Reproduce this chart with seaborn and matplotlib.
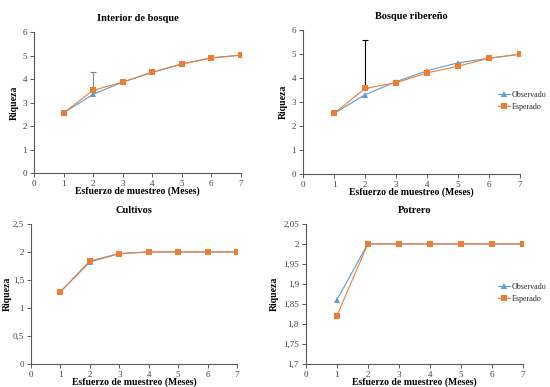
import numpy as np
import pandas as pd
import matplotlib
matplotlib.use("Agg")
import matplotlib.pyplot as plt
from matplotlib.ticker import FuncFormatter, MultipleLocator
import seaborn as sns

sns.set_theme(style="white")
plt.rcParams['font.family'] = ['Liberation Serif', 'DejaVu Serif']

meses = [1, 2, 3, 4, 5, 6, 7]

interior_obs = [2.56, 3.35, 3.87, 4.29, 4.64, 4.90, 5.02]
interior_esp = [2.56, 3.52, 3.87, 4.29, 4.64, 4.90, 5.02]
interior_err_sup = 4.32

ribereno_obs = [2.53, 3.31, 3.85, 4.31, 4.64, 4.83, 5.00]
ribereno_esp = [2.53, 3.57, 3.81, 4.22, 4.50, 4.83, 5.00]
ribereno_err_sup = 5.58

cultivos_obs = [1.29, 1.82, 1.97, 2.00, 2.00, 2.00, 2.00]
cultivos_esp = [1.29, 1.84, 1.97, 2.00, 2.00, 2.00, 2.00]

potrero_obs = [1.86, 2.00, 2.00, 2.00, 2.00, 2.00, 2.00]
potrero_esp = [1.82, 2.00, 2.00, 2.00, 2.00, 2.00, 2.00]

titulos = ["Interior de bosque", "Bosque ribereño", "Cultivos", "Potrero"]
series_lbl = ["Observado", "Esperado"]

BLUE = "#5B9BD5"
ORANGE = "#ED7D31"

fig = plt.figure(figsize=(5.5, 3.87), dpi=100)
rects = [
    [0.0618, 0.553, 0.376, 0.364],
    [0.551, 0.550, 0.3945, 0.372],
    [0.0564, 0.0594, 0.3745, 0.362],
    [0.556, 0.0594, 0.3945, 0.362],
]
datos = [
    (interior_obs, interior_esp, interior_err_sup, (0, 6), 1, "#808080"),
    (ribereno_obs, ribereno_esp, ribereno_err_sup, (0, 6), 1, "#000000"),
    (cultivos_obs, cultivos_esp, None, (0, 2.5), 0.5, None),
    (potrero_obs, potrero_esp, None, (1.7, 2.05), 0.05, None),
]

def fmt(v, pos):
    s = ("%.2f" % v).rstrip("0").rstrip(".")
    return s.replace(".", ",")

for i, (rect, (obs, esp, err, ylim, step, ecol)) in enumerate(zip(rects, datos)):
    ax = fig.add_axes(rect)
    df = pd.DataFrame({"Meses": meses * 2,
                       "Riqueza": obs + esp,
                       "Serie": [series_lbl[0]] * 7 + [series_lbl[1]] * 7})
    sns.lineplot(data=df[df.Serie == "Observado"], x="Meses", y="Riqueza", ax=ax,
                 color=BLUE, marker="^", markersize=3.8, markeredgewidth=0,
                 linewidth=0.8, label="Observado", legend=False)
    sns.lineplot(data=df[df.Serie == "Esperado"], x="Meses", y="Riqueza", ax=ax,
                 color=ORANGE, marker="s", markersize=3.8, markeredgewidth=0,
                 linewidth=0.8, label="Esperado", legend=False)
    if err is not None:
        ax.errorbar([2], [esp[1]], yerr=[[0], [err - esp[1]]], fmt="none",
                    ecolor=ecol, elinewidth=0.8, capsize=2.2, capthick=0.8, zorder=1)
    ax.set_xlim(0, 7)
    ax.set_ylim(*ylim)
    ax.xaxis.set_major_locator(MultipleLocator(1))
    ax.yaxis.set_major_locator(MultipleLocator(step))
    ax.yaxis.set_major_formatter(FuncFormatter(fmt))
    for sp in ["top", "right"]:
        ax.spines[sp].set_visible(False)
    for sp in ["left", "bottom"]:
        ax.spines[sp].set_color("#595959")
        ax.spines[sp].set_linewidth(0.8)
    ax.tick_params(axis="both", which="major", direction="out", length=3, width=0.7,
                   colors="#595959", labelsize=6.5, labelcolor="#404040", pad=2,
                   bottom=True, left=True)
    ax.set_xlabel("Esfuerzo de muestreo (Meses)", fontsize=7, fontweight="bold",
                  labelpad=-1, color="#000000")
    ax.set_ylabel("Riqueza", fontsize=7, fontweight="bold",
                  labelpad=1 if i == 2 else 3, color="#000000")
    ax.set_title(titulos[i], fontsize=7.5, fontweight="bold", pad=8, color="#000000")
    ax.grid(False)
    if i in (1, 3):
        by = 0.739 if i == 1 else 0.243
        ax.legend(loc="center left", bbox_to_anchor=(0.905, by), bbox_transform=fig.transFigure,
                  frameon=False, fontsize=5.8, handlelength=1.5, handletextpad=0.2,
                  labelspacing=0.5, borderaxespad=0, borderpad=0)

fig.savefig("out.png", dpi=100)
